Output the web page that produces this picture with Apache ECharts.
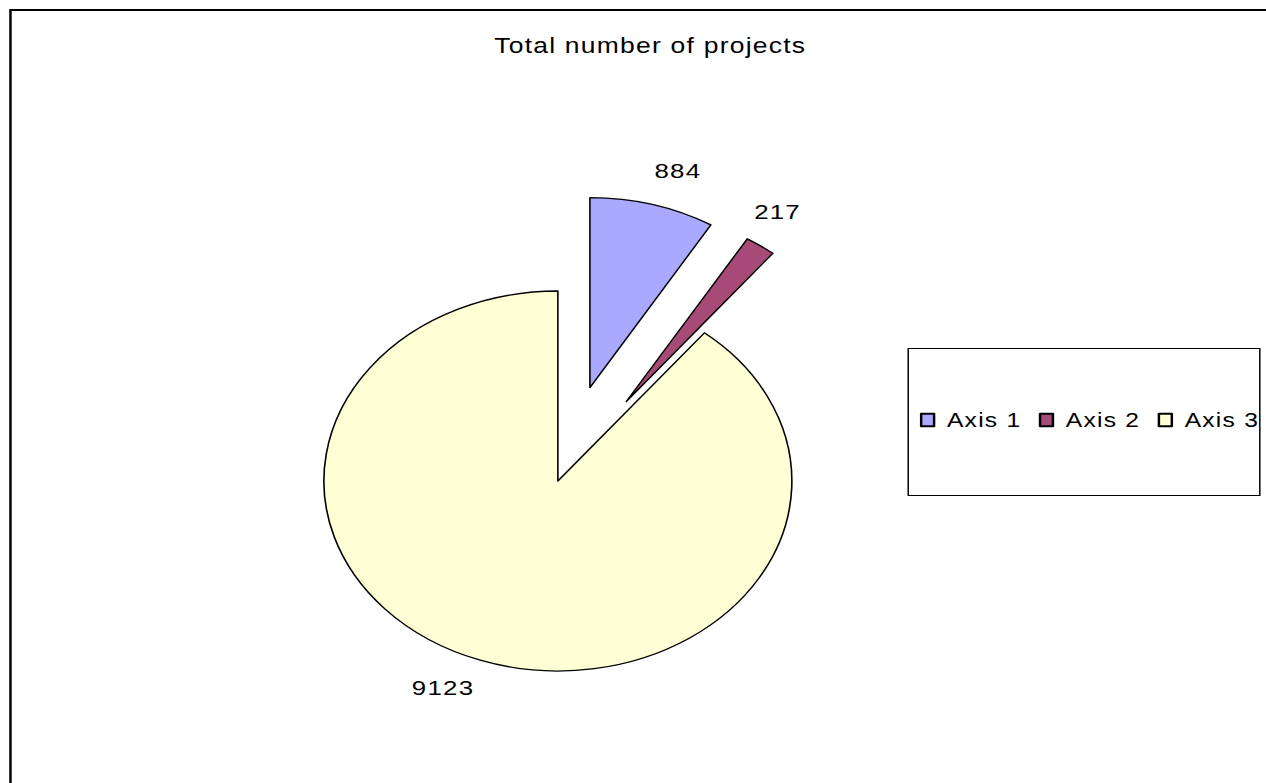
<!DOCTYPE html>
<html>
<head>
<meta charset="utf-8">
<title>Total number of projects</title>
<script src="https://cdn.jsdelivr.net/npm/echarts@6.0.0/dist/echarts.min.js"></script>
<style>
  html, body { margin: 0; padding: 0; background: #fff; overflow: hidden; }
  /* the original picture is stretched sideways, so the whole chart is too */
  #main {
    width: 1028px;
    height: 783px;
    transform: scaleX(1.2315);
    transform-origin: 0 0;
  }
  #main text { letter-spacing: 1px; }
</style>
</head>
<body>
<div id="main"></div>
<script>
// data
const categories = ["Axis 1", "Axis 2", "Axis 3"];
const values = [884, 217, 9123];
const colors = ["#a9a9ff", "#a64b78", "#ffffd6"];
const exploded = [true, true, false];
// where each value label sits outside its slice
const labelLen = [35, 41, 29.5];
const labelShift = [-8, -28.5, -5];

const chart = echarts.init(document.getElementById("main"), null, { renderer: "svg" });
const font = "'Liberation Sans', Arial, sans-serif";

const pieData = categories.map((name, i) => ({
  name: name,
  value: values[i],
  selected: exploded[i],
  itemStyle: { color: colors[i] },
  labelLine: { show: false, length: labelLen[i], length2: 0 },
  label: { distanceToLabelLine: labelShift[i] },
}));

const option = {
  animation: false,
  backgroundColor: "#fff",
  title: {
    text: "Total number of projects",
    left: 528,
    top: 34,
    padding: 0,
    textAlign: "center",
    textStyle: { fontFamily: font, fontSize: 21.5, fontWeight: "normal", color: "#000" },
  },
  legend: {
    data: categories,
    orient: "horizontal",
    left: 747,
    top: 410,
    padding: 0,
    itemGap: 20,
    itemWidth: 10.5,
    itemHeight: 12.5,
    icon: "rect",
    selectedMode: false,
    formatter: (name) => " " + name,
    textStyle: { fontFamily: font, fontSize: 20, color: "#000" },
  },
  // chart frame and legend box
  graphic: [
    {
      type: "rect",
      shape: { x: 8.5, y: 10, width: 1100, height: 900 },
      style: { fill: "none", stroke: "#000", lineWidth: 2 },
      silent: true,
    },
    {
      type: "rect",
      shape: { x: 737.5, y: 348.5, width: 285.5, height: 147 },
      style: { fill: "none", stroke: "#000", lineWidth: 1.2 },
      silent: true,
    },
  ],
  series: [
    {
      type: "pie",
      center: [453, 481],
      radius: 190,
      startAngle: 90,
      clockwise: true,
      selectedMode: "multiple",
      selectedOffset: 97,
      avoidLabelOverlap: false,
      data: pieData,
      itemStyle: { borderColor: "#000", borderWidth: 1.3 },
      label: {
        show: true,
        position: "outside",
        formatter: "{c}",
        fontFamily: font,
        fontSize: 21,
        color: "#000",
      },
      emphasis: { scale: false },
    },
  ],
};

chart.setOption(option);
</script>
</body>
</html>
